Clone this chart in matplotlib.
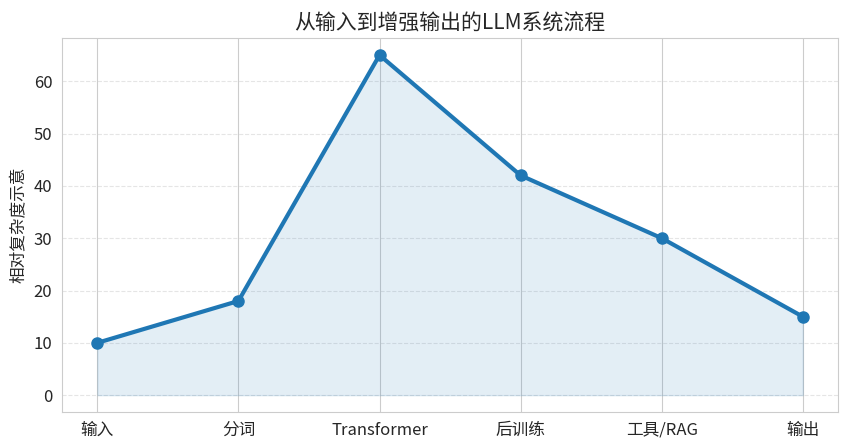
import matplotlib
matplotlib.use("Agg")
import matplotlib.pyplot as plt
import seaborn as sns

stages = ["输入", "分词", "Transformer", "后训练", "工具/RAG", "输出"]
complexity = [10, 18, 65, 42, 30, 15]

sns.set_style("whitegrid")
plt.rcParams['font.family'] = ['Noto Sans CJK SC', 'DejaVu Sans']
plt.rcParams['axes.unicode_minus'] = False

fig, ax = plt.subplots(figsize=(8.5, 4.48), dpi=100)
x = list(range(len(stages)))
ax.plot(x, complexity, marker='o', color='#1f77b4', linewidth=3, markersize=8, zorder=3)
ax.fill_between(x, complexity, 0, color='#1f77b4', alpha=0.12)
ax.set_xticks(x)
ax.set_xticklabels(stages, fontsize=12)
ax.tick_params(axis='y', labelsize=12)
ax.set_ylabel("相对复杂度示意", fontsize=12)
ax.set_title("从输入到增强输出的LLM系统流程", fontsize=15)
ax.grid(axis='y', linestyle='--', alpha=0.5)
ax.grid(axis='x', linestyle='-', color='#cccccc')
for s in ax.spines.values():
    s.set_color('#cccccc')
fig.subplots_adjust(left=0.073, right=0.986, top=0.915, bottom=0.08)
fig.savefig("out.png", dpi=100)
